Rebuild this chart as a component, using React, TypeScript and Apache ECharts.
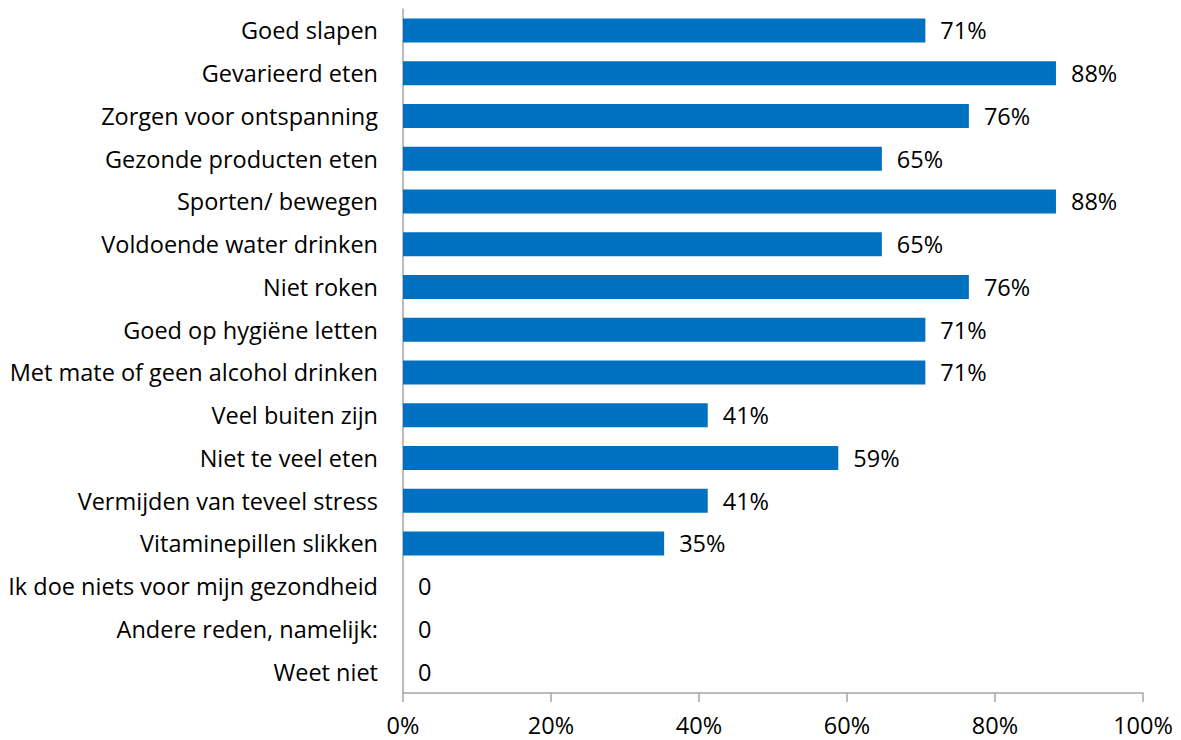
import React, { useEffect, useRef } from "react";
import * as echarts from "echarts";

const categories = [
  "Goed slapen",
  "Gevarieerd eten",
  "Zorgen voor ontspanning",
  "Gezonde producten eten",
  "Sporten/ bewegen",
  "Voldoende water drinken",
  "Niet roken",
  "Goed op hygiëne letten",
  "Met mate of geen alcohol drinken",
  "Veel buiten zijn",
  "Niet te veel eten",
  "Vermijden van teveel stress",
  "Vitaminepillen slikken",
  "Ik doe niets voor mijn gezondheid",
  "Andere reden, namelijk:",
  "Weet niet",
];

const values = [70.59, 88.24, 76.47, 64.71, 88.24, 64.71, 76.47, 70.59, 70.59, 41.18, 58.82, 41.18, 35.29, 0, 0, 0];

const xTicks = [0, 20, 40, 60, 80, 100];

const FONT = "'Open Sans', sans-serif";
const FS = 23.5;

export default function App() {
  const ref = useRef<HTMLDivElement>(null);
  useEffect(() => {
    document.body.style.margin = "0";
    const chart = echarts.init(ref.current!, null, { renderer: "svg" });
    chart.setOption({
      animation: false,
      textStyle: { fontFamily: FONT },
      grid: { left: 403, right: 38, top: 9, bottom: 47, containLabel: false },
      xAxis: {
        type: "value",
        min: 0,
        max: 100,
        interval: 20,
        axisLine: { show: true, lineStyle: { color: "#A6A6A6", width: 1.5 } },
        axisTick: { show: true, length: 9, lineStyle: { color: "#A6A6A6", width: 1.5 } },
        splitLine: { show: false },
        axisLabel: {
          color: "#000",
          fontSize: FS,
          lineHeight: 22,
          fontFamily: FONT,
          margin: 21,
          formatter: (v: number) => (xTicks.includes(v) ? v + "%" : ""),
        },
      },
      yAxis: {
        type: "category",
        inverse: true,
        data: categories,
        axisLine: { show: true, lineStyle: { color: "#A6A6A6", width: 1.5 } },
        axisTick: { show: false },
        axisLabel: { color: "#000", fontSize: FS, fontFamily: FONT, margin: 25 },
      },
      series: [
        {
          type: "bar",
          data: values,
          barWidth: 24,
          itemStyle: { color: "#0070C0" },
          label: {
            show: true,
            position: "right",
            distance: 15,
            color: "#000",
            fontSize: FS,
            fontFamily: FONT,
            formatter: (p: any) => (p.value === 0 ? "0" : Math.round(p.value) + "%"),
          },
        },
      ],
    });
    return () => chart.dispose();
  }, []);
  return <div ref={ref} style={{ width: 1181, height: 740 }} />;
}
